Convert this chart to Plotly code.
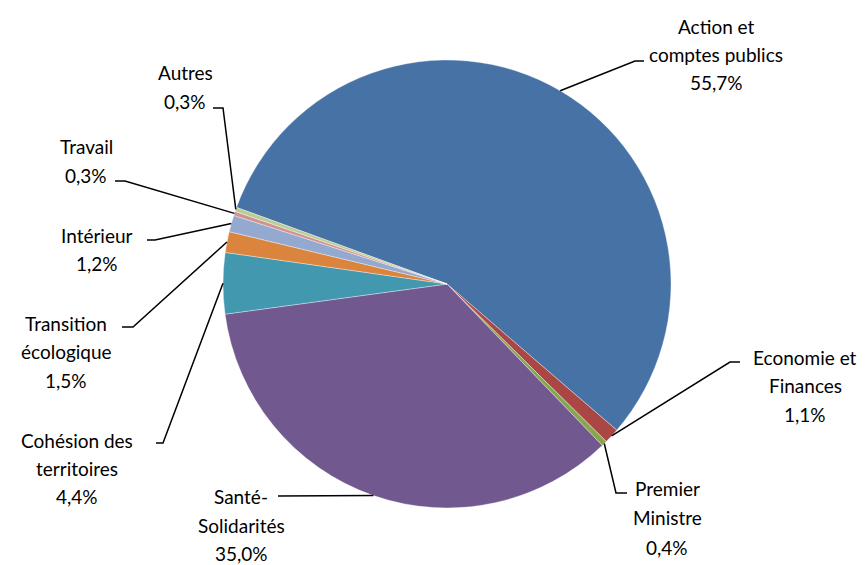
import math
import plotly.graph_objects as go

# ---- data ----
categories = ["Action et comptes publics", "Economie et Finances", "Premier Ministre",
              "Santé-Solidarités", "Cohésion des territoires", "Transition écologique",
              "Intérieur", "Travail", "Autres"]
values = [55.7, 1.1, 0.4, 35.0, 4.4, 1.5, 1.2, 0.3, 0.3]
label_lines = [["Action et", "comptes publics", "55,7%"],
               ["Economie et", "Finances", "1,1%"],
               ["Premier", "Ministre", "0,4%"],
               ["Santé-", "Solidarités", "35,0%"],
               ["Cohésion des", "territoires", "4,4%"],
               ["Transition", "écologique", "1,5%"],
               ["Intérieur", "1,2%"],
               ["Travail", "0,3%"],
               ["Autres", "0,3%"]]
colors = ["#4672A6", "#AA4643", "#89A54E", "#71588F", "#4198AF",
          "#DB843D", "#93A9CF", "#D19392", "#B9CD96"]

# ---- layout constants (pixels) ----
W, H = 868, 565
CX, CY, R = 447, 284, 224
ROT = 290
# elbow point, stub end, text centre x, first-line centre y, line pitch
label_pos = [
    ((635, 61), (644, 61), 716, 27, 27.5),
    ((730, 362), (740, 362), 805, 357, 28.5),
    ((616, 493), (627, 493), 667, 488, 29.5),
    ((278, 496), (278, 496), 241, 497, 28),
    ((163, 443), (156, 443), 77, 441, 27.5),
    ((133, 327), (122, 327), 66, 323, 28.5),
    ((155, 240), (147, 240), 97, 235, 28.5),
    ((125, 181), (115, 181), 86, 146, 29),
    ((223, 108), (213, 108), 185, 72, 29),
]

def px(x):
    return x / W

def py(y):
    return 1 - y / H

fig = go.Figure(go.Pie(
    labels=categories, values=values, sort=False, direction="clockwise",
    rotation=ROT, textinfo="none", hoverinfo="label+percent",
    marker=dict(colors=colors, line=dict(color="rgba(255,255,255,0.6)", width=0.6)),
    domain=dict(x=[px(CX - R), px(CX + R)], y=[py(CY + R), py(CY - R)]),
    showlegend=False,
))

total = sum(values)
cum = 0.0
shapes = []
annotations = []
for v, lines, (elbow, stub, tx, ty, pitch) in zip(values, label_lines, label_pos):
    mid = ROT + (cum + v / 2) / total * 360
    cum += v
    a = math.radians(mid)
    sx = CX + R * math.sin(a)
    sy = CY - R * math.cos(a)
    path = (f"M {px(sx)},{py(sy)} L {px(elbow[0])},{py(elbow[1])} "
            f"L {px(stub[0])},{py(stub[1])}")
    shapes.append(dict(type="path", xref="paper", yref="paper", path=path,
                       line=dict(color="black", width=1.5)))
    for i, t in enumerate(lines):
        annotations.append(dict(
            x=px(tx), y=py(ty + i * pitch), xref="paper", yref="paper",
            text=t, showarrow=False, xanchor="center", yanchor="middle",
            borderpad=0,
            font=dict(family="Lato, Carlito, Calibri, sans-serif", size=19, color="black"),
        ))

fig.update_layout(
    width=W, height=H, margin=dict(l=0, r=0, t=0, b=0),
    paper_bgcolor="white", plot_bgcolor="white",
    shapes=shapes, annotations=annotations,
)

fig.write_html("out.html", config={"displayModeBar": False},
               post_script="document.body.style.margin='0';")
